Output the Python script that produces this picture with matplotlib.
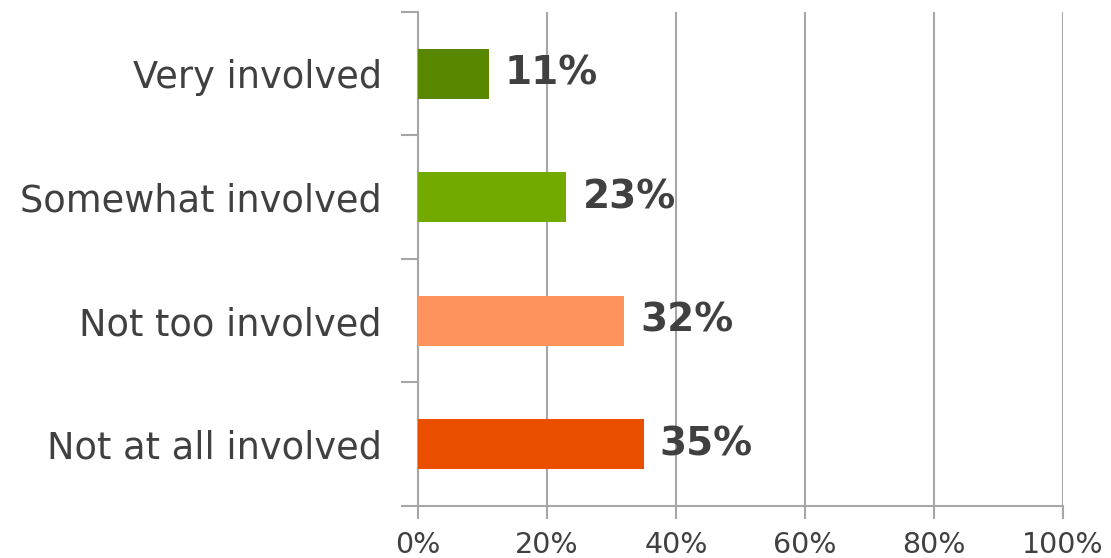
import numpy as np
import matplotlib.pyplot as plt

categories = ["Very involved", "Somewhat involved", "Not too involved", "Not at all involved"]
values = [11, 23, 32, 35]
colors = ["#598700", "#72AA00", "#FF935E", "#EA4F00"]
xticks = [0, 20, 40, 60, 80, 100]

grey = "#A6A6A6"
text_col = "#404040"

fig = plt.figure(figsize=(11.11, 5.58), dpi=100)
ax = fig.add_axes([0.3762, 0.0932, 0.5806, 0.8853])

y = np.arange(len(categories))
ax.barh(y, values, height=0.405, color=colors, zorder=3)
ax.set_ylim(len(categories) - 0.5, -0.5)
ax.set_xlim(0, 100)

for yi, v in zip(y, values):
    ax.text(v + 2.5, yi, "{0}%".format(v), va="center", ha="left",
            fontsize=28, fontweight="bold", color=text_col, zorder=4)

ax.set_yticks(y)
ax.set_yticklabels(categories, fontsize=26.5, color=text_col)
ax.set_yticks(np.arange(len(categories) + 1) - 0.5, minor=True)
ax.tick_params(axis="y", which="major", length=0, pad=26)
ax.tick_params(axis="y", which="minor", length=12, width=1.5, color=grey, direction="out")

ax.set_xticks(xticks)
ax.set_xticklabels(["{0}%".format(t) for t in xticks], fontsize=20.5, color=text_col)
ax.tick_params(axis="x", length=9, width=1.5, color=grey, pad=9)

ax.grid(axis="x", color=grey, linewidth=1.5, zorder=0)
for s in ["top", "right"]:
    ax.spines[s].set_visible(False)
for s in ["left", "bottom"]:
    ax.spines[s].set_color(grey)
    ax.spines[s].set_linewidth(1.5)

plt.savefig("out.png", dpi=100)
